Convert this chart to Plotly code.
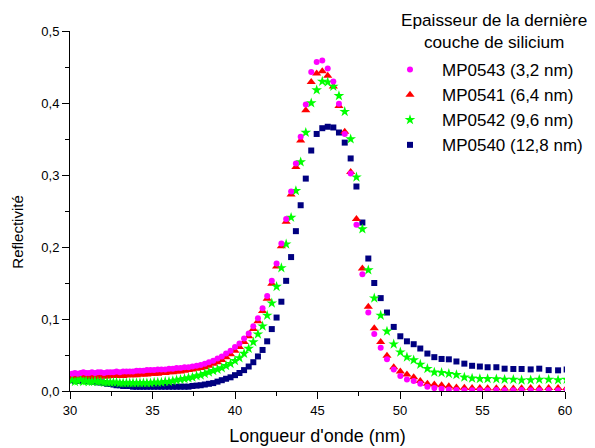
import plotly.graph_objects as go

# Wavelength grid (nm)
wavelength = [
    30.13, 30.30, 30.47, 30.64, 30.81, 30.98, 31.15, 31.33, 31.51, 31.69,
    31.87, 32.06, 32.25, 32.44, 32.63, 32.82, 33.02, 33.22, 33.42, 33.62,
    33.82, 34.03, 34.24, 34.45, 34.66, 34.88, 35.10, 35.32, 35.54, 35.77,
    36.00, 36.23, 36.46, 36.70, 36.94, 37.18, 37.42, 37.67, 37.92, 38.17,
    38.42, 38.68, 38.94, 39.20, 39.46, 39.73, 40.00, 40.27, 40.55, 40.83,
    41.11, 41.39, 41.67, 41.95, 42.23, 42.52, 42.81, 43.10, 43.40, 43.69,
    43.98, 44.29, 44.62, 44.95, 45.29, 45.62, 45.96, 46.30, 46.65, 47.01,
    47.36, 47.72, 48.08, 48.44, 48.83, 49.21, 49.62, 50.02, 50.42, 50.83,
    51.23, 51.66, 52.08, 52.52, 52.96, 53.42, 53.90, 54.37, 54.84, 55.31,
    55.84, 56.34, 56.87, 57.37, 57.92, 58.44, 59.01, 59.58, 60.10,
]

mp0543 = [
    0.024, 0.025, 0.024, 0.025, 0.026, 0.025, 0.025, 0.026, 0.025, 0.026,
    0.026, 0.025, 0.026, 0.026, 0.026, 0.027, 0.026, 0.027, 0.027, 0.027,
    0.027, 0.028, 0.028, 0.028, 0.029, 0.029, 0.029, 0.030, 0.030, 0.030,
    0.031, 0.031, 0.032, 0.032, 0.033, 0.033, 0.034, 0.035, 0.036, 0.038,
    0.040, 0.042, 0.045, 0.048, 0.052, 0.056, 0.061, 0.066, 0.073, 0.080,
    0.090, 0.101, 0.115, 0.132, 0.153, 0.177, 0.205, 0.239, 0.277, 0.316,
    0.353, 0.398, 0.443, 0.457, 0.459, 0.448, 0.430, 0.399, 0.357, 0.302,
    0.231, 0.162, 0.109, 0.079, 0.060, 0.044, 0.030, 0.021, 0.016, 0.014,
    0.010, 0.006, 0.004, 0.003, 0.002, 0.0015, 0.001, 0.001, 0.001, 0.001,
    0.0015, 0.001, 0.001, 0.0015, 0.001, 0.001, 0.0015, 0.001, 0.0015,
]

mp0541 = [
    0.019, 0.020, 0.020, 0.019, 0.021, 0.020, 0.020, 0.020, 0.019, 0.020,
    0.020, 0.020, 0.020, 0.021, 0.021, 0.021, 0.021, 0.021, 0.022, 0.022,
    0.022, 0.022, 0.023, 0.023, 0.023, 0.024, 0.024, 0.024, 0.025, 0.025,
    0.026, 0.026, 0.027, 0.027, 0.028, 0.029, 0.030, 0.031, 0.032, 0.033,
    0.035, 0.038, 0.040, 0.043, 0.047, 0.051, 0.056, 0.061, 0.068, 0.076,
    0.086, 0.097, 0.111, 0.128, 0.149, 0.173, 0.201, 0.235, 0.273, 0.311,
    0.348, 0.390, 0.429, 0.441, 0.444, 0.438, 0.423, 0.396, 0.360, 0.304,
    0.239, 0.170, 0.117, 0.087, 0.068, 0.049, 0.033, 0.027, 0.023, 0.019,
    0.014, 0.010, 0.009, 0.008, 0.0065, 0.005, 0.0045, 0.004, 0.004, 0.0037,
    0.0037, 0.0035, 0.0035, 0.0037, 0.004, 0.0037, 0.004, 0.004, 0.004,
]

mp0542 = [
    0.015, 0.013, 0.014, 0.016, 0.013, 0.014, 0.013, 0.013, 0.014, 0.013,
    0.013, 0.012, 0.012, 0.012, 0.012, 0.012, 0.011, 0.011, 0.011, 0.011,
    0.011, 0.011, 0.011, 0.011, 0.011, 0.011, 0.012, 0.012, 0.012, 0.013,
    0.013, 0.014, 0.015, 0.016, 0.017, 0.018, 0.019, 0.021, 0.022, 0.024,
    0.026, 0.028, 0.030, 0.032, 0.035, 0.038, 0.042, 0.046, 0.052, 0.059,
    0.068, 0.079, 0.090, 0.105, 0.122, 0.145, 0.171, 0.204, 0.241, 0.278,
    0.318, 0.359, 0.400, 0.418, 0.430, 0.429, 0.423, 0.410, 0.388, 0.350,
    0.297, 0.225, 0.168, 0.129, 0.105, 0.083, 0.065, 0.054, 0.047, 0.043,
    0.037, 0.031, 0.026, 0.0255, 0.024, 0.0225, 0.019, 0.0176, 0.017, 0.017,
    0.0167, 0.016, 0.016, 0.015, 0.0153, 0.016, 0.016, 0.0153, 0.016,
]

mp0540 = [
    0.015, 0.014, 0.015, 0.014, 0.015, 0.014, 0.014, 0.013, 0.013, 0.012,
    0.012, 0.011, 0.010, 0.010, 0.009, 0.008, 0.008, 0.007, 0.007, 0.007,
    0.006, 0.006, 0.006, 0.006, 0.006, 0.006, 0.006, 0.006, 0.006, 0.006,
    0.006, 0.006, 0.006, 0.006, 0.006, 0.006, 0.007, 0.0075, 0.008, 0.009,
    0.010, 0.011, 0.013, 0.015, 0.017, 0.019, 0.022, 0.025, 0.029, 0.034,
    0.040, 0.048, 0.057, 0.069, 0.086, 0.102, 0.124, 0.153, 0.186, 0.222,
    0.258, 0.295, 0.334, 0.357, 0.365, 0.367, 0.366, 0.359, 0.345, 0.323,
    0.284, 0.234, 0.184, 0.150, 0.129, 0.109, 0.089, 0.076, 0.069, 0.065,
    0.059, 0.052, 0.047, 0.0445, 0.044, 0.041, 0.038, 0.035, 0.034, 0.033,
    0.033, 0.031, 0.0306, 0.0306, 0.030, 0.031, 0.029, 0.0287, 0.030,
]

legend_names = ["MP0543 (3,2 nm)", "MP0541 (6,4 nm)", "MP0542 (9,6 nm)", "MP0540 (12,8 nm)"]
legend_title = "Epaisseur de la dernière<br>couche de silicium"
x_title = "Longueur d'onde (nm)"
y_title = "Reflectivité"

FONT = "Liberation Sans, Arial, sans-serif"

fig = go.Figure()
# draw order: navy bottom, then red, green, magenta on top
fig.add_trace(go.Scatter(x=wavelength, y=mp0540, mode="markers", name=legend_names[3], legendrank=4,
                         marker=dict(symbol="square", size=6, color="#000080", line=dict(width=0))))
fig.add_trace(go.Scatter(x=wavelength, y=mp0541, mode="markers", name=legend_names[1], legendrank=2,
                         marker=dict(symbol="triangle-up", size=8, color="#FF0000", line=dict(width=0))))
fig.add_trace(go.Scatter(x=wavelength, y=mp0542, mode="markers", name=legend_names[2], legendrank=3,
                         marker=dict(symbol="star", size=8, color="#00FF00", line=dict(width=0))))
fig.add_trace(go.Scatter(x=wavelength, y=mp0543, mode="markers", name=legend_names[0], legendrank=1,
                         marker=dict(symbol="circle", size=6, color="#FF00FF", line=dict(width=0))))

axis_common = dict(
    showline=True, linecolor="black", linewidth=1, mirror=False,
    ticks="outside", ticklen=7, tickwidth=1, tickcolor="black",
    showgrid=False, zeroline=False,
    tickfont=dict(family=FONT, size=13, color="black"),
)

fig.update_xaxes(range=[30, 60], dtick=5, tick0=30,
                 minor=dict(dtick=2.5, ticks="outside", ticklen=4, tickcolor="black", showgrid=False),
                 title=dict(text=x_title, font=dict(family=FONT, size=18, color="black"), standoff=12),
                 **axis_common)
fig.update_yaxes(range=[0, 0.5], dtick=0.1, tick0=0, tickformat=".1f",
                 minor=dict(dtick=0.05, ticks="outside", ticklen=4, tickcolor="black", showgrid=False),
                 **axis_common)

fig.update_layout(
    width=587, height=440,
    margin=dict(l=62, r=30, t=23, b=57, autoexpand=False),
    paper_bgcolor="white", plot_bgcolor="white",
    separators=", ",
    font=dict(family=FONT, color="black"),
    showlegend=True,
    legend=dict(x=0.6222, y=0.9417, xanchor="left", yanchor="top",
                bgcolor="rgba(0,0,0,0)", borderwidth=0, itemwidth=54,
                font=dict(family=FONT, size=17, color="black")),
    annotations=[
        dict(text=legend_title, xref="paper", yref="paper",
             x=0.8566, y=1.0, xanchor="center", yanchor="middle",
             showarrow=False, align="center",
             font=dict(family=FONT, size=17.2, color="black")),
        dict(text=y_title, xref="paper", yref="paper",
             x=-0.105, y=0.44, xanchor="center", yanchor="middle",
             textangle=-90, showarrow=False,
             font=dict(family=FONT, size=15, color="black")),
    ],
)

fig.write_html("out.html")
